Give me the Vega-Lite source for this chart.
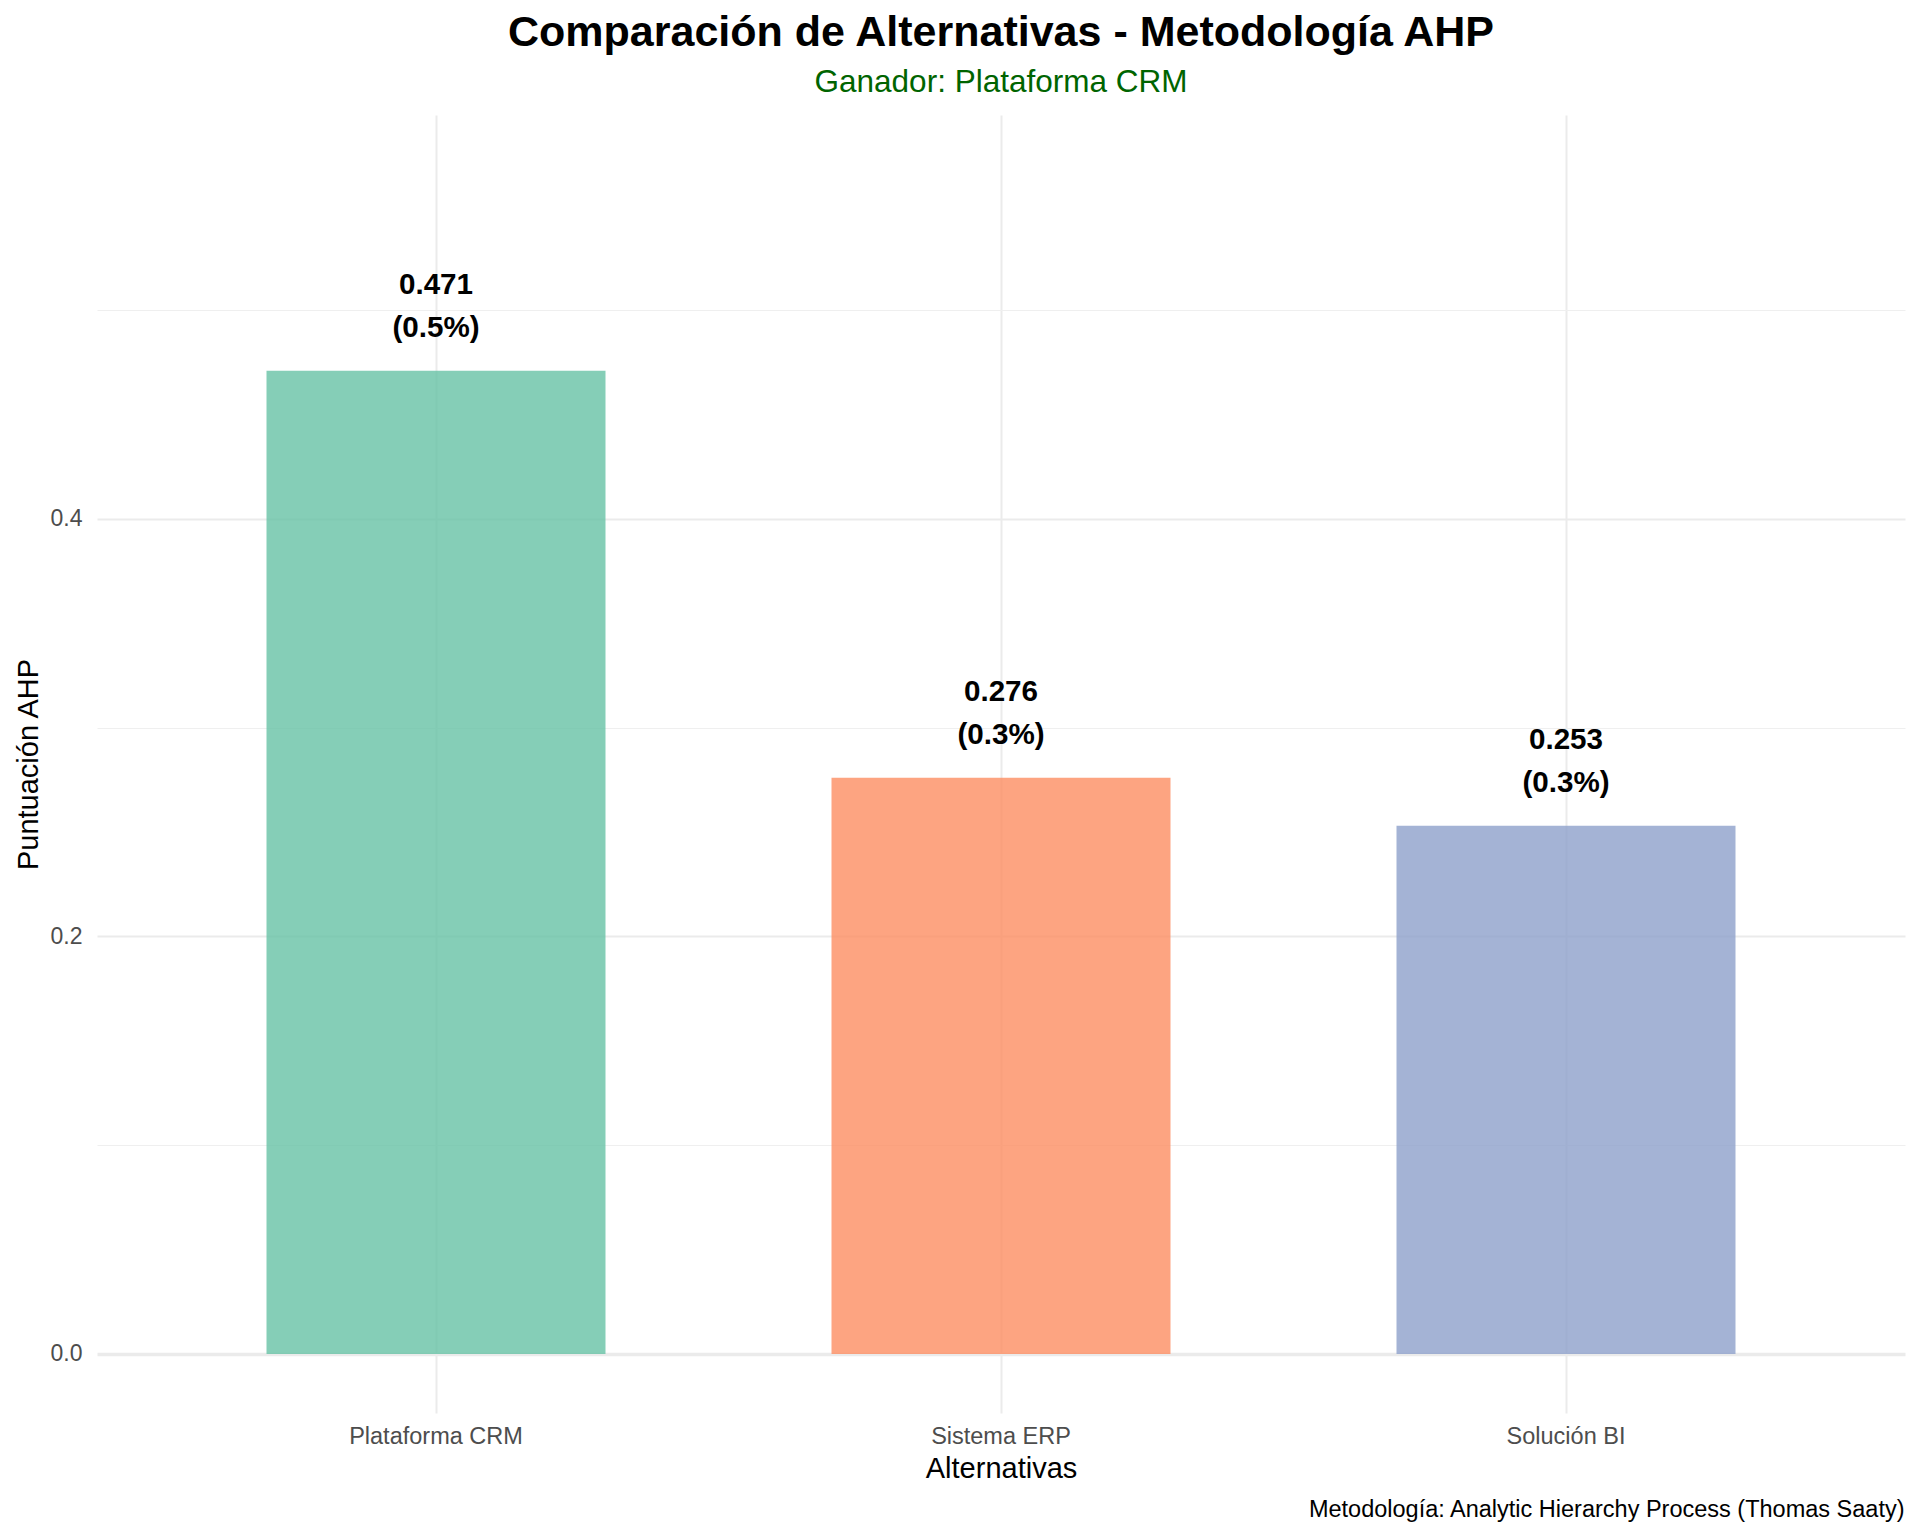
{
  "$schema": "https://vega.github.io/schema/vega-lite/v6.json",
  "autosize": {"type": "none"},
  "padding": {"left": 97, "top": 115, "right": 15, "bottom": 123},
  "width": 1808,
  "height": 1298,
  "background": "white",
  "config": {
    "font": "Liberation Sans",
    "view": {"stroke": null}
  },
  "title": {
    "text": "Comparación de Alternativas - Metodología AHP",
    "subtitle": "Ganador: Plataforma CRM",
    "anchor": "middle",
    "frame": "group",
    "fontSize": 43,
    "fontWeight": "bold",
    "color": "black",
    "subtitleFontSize": 31.5,
    "subtitleColor": "#006400",
    "subtitlePadding": 12.2,
    "offset": 16.5
  },
  "data": {
    "values": [
      {"alternativa": "Plataforma CRM", "puntuacion": 0.471, "etiqueta": "0.471\n(0.5%)"},
      {"alternativa": "Sistema ERP", "puntuacion": 0.276, "etiqueta": "0.276\n(0.3%)"},
      {"alternativa": "Solución BI", "puntuacion": 0.253, "etiqueta": "0.253\n(0.3%)"}
    ]
  },
  "encoding": {
    "x": {
      "field": "alternativa",
      "type": "nominal",
      "sort": null,
      "scale": {"paddingInner": 0.4, "paddingOuter": 0.3},
      "axis": {
        "title": "Alternativas",
        "titleFontSize": 29,
        "titleFontWeight": "normal",
        "titleColor": "black",
        "titleBaseline": "alphabetic",
        "titleY": 64,
        "labelAngle": 0,
        "labelFontSize": 23.5,
        "labelColor": "#4D4D4D",
        "labelPadding": 11,
        "ticks": false,
        "tickSize": 0,
        "domain": false,
        "grid": true,
        "gridColor": "#EBEBEB",
        "gridWidth": 2
      }
    },
    "y": {
      "field": "puntuacion",
      "type": "quantitative",
      "scale": {"domain": [-0.0283, 0.5935], "nice": false, "zero": false}
    }
  },
  "layer": [
    {
      "mark": {"type": "bar", "fillOpacity": 0.8},
      "encoding": {
        "color": {
          "field": "alternativa",
          "type": "nominal",
          "scale": {"domain": ["Plataforma CRM", "Sistema ERP", "Solución BI"], "range": ["#66C2A5", "#FC8D62", "#8DA0CB"]},
          "legend": null
        },
        "y": {
          "field": "puntuacion",
          "type": "quantitative",
          "scale": {"domain": [-0.0283, 0.5935], "nice": false, "zero": false},
          "axis": {
            "title": "Puntuación AHP",
            "titleFontSize": 29,
            "titleFontWeight": "normal",
            "titleColor": "black",
            "titleBaseline": "alphabetic",
            "titleAngle": -90,
            "titleX": -60,
            "titleY": 649,
            "values": [0, 0.2, 0.4],
            "format": ".1f",
            "labelFontSize": 23,
            "labelColor": "#4D4D4D",
            "labelPadding": 15,
            "ticks": false,
            "tickSize": 0,
            "domain": false,
            "grid": true,
            "gridColor": "#EBEBEB",
            "gridWidth": {"condition": {"test": "datum.value === 0", "value": 3.3}, "value": 2}
          }
        }
      }
    },
    {
      "mark": {"type": "text", "fontSize": 29.6, "fontWeight": "bold", "color": "black", "baseline": "alphabetic", "align": "center", "dy": -77, "lineHeight": 43, "lineBreak": "\n"},
      "encoding": {
        "text": {"field": "etiqueta", "type": "nominal"},
        "y": {
          "field": "puntuacion",
          "type": "quantitative",
          "scale": {"domain": [-0.0283, 0.5935], "nice": false, "zero": false},
          "axis": {
            "orient": "right",
            "title": "Metodología: Analytic Hierarchy Process (Thomas Saaty)",
            "titleFontSize": 23.5,
            "titleFontWeight": "normal",
            "titleColor": "black",
            "titleAngle": 0,
            "titleAlign": "right",
            "titleBaseline": "alphabetic",
            "titleX": -1,
            "titleY": 1401,
            "values": [0.1, 0.3, 0.5],
            "labels": false,
            "ticks": false,
            "tickSize": 0,
            "domain": false,
            "grid": true,
            "gridColor": "#EFEFEF",
            "gridWidth": 1
          }
        }
      }
    }
  ],
  "resolve": {"axis": {"y": "independent"}}
}
